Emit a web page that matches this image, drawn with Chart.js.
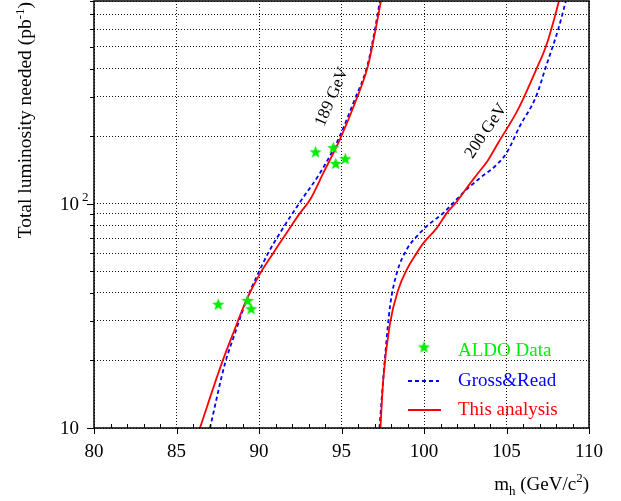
<!DOCTYPE html>
<html>
<head>
<meta charset="utf-8">
<script src="https://cdn.jsdelivr.net/npm/chart.js@4/dist/chart.umd.min.js"></script>
<style>
	html, body { margin: 0; padding: 0; background: #fff; }
	#wrap { width: 621px; height: 501px; }
</style>
</head>
<body>
<div id="wrap"><canvas id="lumi-chart" width="621" height="501"></canvas></div>
<script>
// ALDO data points (m_h, luminosity)
const aldoMass = [87.53, 89.31, 89.52, 93.43, 94.5, 94.65, 95.23];
const aldoLumi = [35.6, 37.0, 34.0, 170, 177.6, 151, 158.5];

// 189 GeV curves
const massRed189 = [86.42, 87.74, 88.44, 89.25, 89.96, 90.87, 91.67, 92.48, 93.09, 93.9, 94.9, 95.9, 96.6, 97.03, 97.39];
const lumiRed189 = [10, 19.4, 26.5, 37.3, 47.3, 60.3, 74, 90.7, 104, 137, 193, 291, 410, 578, 800];
const massBlue189 = [87.03, 87.94, 88.55, 89.25, 89.86, 90.56, 91.27, 92.18, 92.58, 93.7, 94.8, 95.8, 96.56, 96.99, 97.33];
const lumiBlue189 = [10, 19.4, 26.5, 37.3, 47.3, 60.3, 74, 94, 104, 137, 193, 291, 410, 578, 800];

// 200 GeV curves
const massRed200 = [97.36, 97.53, 97.94, 98.44, 98.95, 99.56, 99.96, 100.77, 101.38, 101.98, 102.59, 103.2, 103.9, 104.5, 105.7, 106.8, 107.4, 107.94, 108.18];
const lumiRed200 = [10, 16.4, 29.3, 41.3, 50.7, 60.3, 66.7, 77.8, 90.7, 102, 117.4, 134.5, 157, 186.7, 263, 396, 504, 686, 800];
const massBlue200 = [97.3, 97.64, 97.94, 98.35, 98.95, 99.56, 100.16, 101.17, 101.58, 102.38, 103.39, 104.4, 105.0, 105.8, 106.8, 107.4, 108.14, 108.6];
const lumiBlue200 = [10, 20.8, 34.8, 49, 62.4, 71.5, 79.2, 90.8, 97.3, 112, 130, 149, 168, 221, 301, 410, 600, 800];

const xTicks = [80, 85, 90, 95, 100, 105, 110];
const yGrid = [10, 20, 30, 40, 50, 60, 70, 80, 90, 100, 200, 300, 400, 500, 600, 700, 800];
const yMajor = [10, 100];
const legendLabels = ['ALDO Data', 'Gross&Read', 'This analysis'];

const serif = '"Liberation Serif", "DejaVu Serif", serif';
const greenColor = '#00ee00';
const blueColor = '#0000ff';
const redColor = '#ff0000';

function toPoints(xs, ys) {
	return xs.map((x, i) => ({ x: x, y: ys[i] }));
}

function makeStar(r, color) {
	const c = document.createElement('canvas');
	const size = Math.ceil(r * 2) + 2;
	c.width = size;
	c.height = size;
	const g = c.getContext('2d');
	g.fillStyle = color;
	g.beginPath();
	for (let i = 0; i < 10; i++) {
		const rad = i % 2 == 0 ? r : r * 0.42;
		const a = -Math.PI / 2 + i * Math.PI / 5;
		const px = size / 2 + rad * Math.cos(a);
		const py = size / 2 + rad * Math.sin(a) + 0.5;
		if (i == 0) g.moveTo(px, py);
		else g.lineTo(px, py);
	}
	g.closePath();
	g.fill();
	return c;
}

const star = makeStar(6.5, greenColor);

// draws text pieces [text, size, raise] in a row starting at x
function drawPieces(ctx, pieces, x, y) {
	for (const [text, size, raise] of pieces) {
		ctx.font = size + 'px ' + serif;
		ctx.fillText(text, x, y - raise);
		x += ctx.measureText(text).width;
	}
}

function piecesWidth(ctx, pieces) {
	let w = 0;
	for (const [text, size] of pieces) {
		ctx.font = size + 'px ' + serif;
		w += ctx.measureText(text).width;
	}
	return w;
}

const framePlugin = {
	id: 'framePlugin',
	afterDraw: (chart) => {
		const { ctx, chartArea: { top, bottom, left, right }, scales: { x, y } } = chart;
		ctx.save();
		ctx.fillStyle = '#000';
		ctx.strokeStyle = '#000';

		// ticks
		ctx.lineWidth = 1;
		ctx.beginPath();
		for (let v = 80; v <= 110; v++) {
			const px = Math.round(x.getPixelForValue(v)) + 0.5;
			if (v % 5 == 0) {
				ctx.moveTo(px, bottom);
				ctx.lineTo(px, bottom + 6);
			} else {
				ctx.moveTo(px, bottom);
				ctx.lineTo(px, bottom - 4);
			}
		}
		for (const v of yGrid) {
			const py = Math.round(y.getPixelForValue(v)) + 0.5;
			const len = yMajor.includes(v) ? 7 : 4;
			ctx.moveTo(left - len, py);
			ctx.lineTo(left, py);
		}
		ctx.stroke();

		// frame
		ctx.lineWidth = 1.5;
		ctx.strokeRect(left, top, right - left, bottom - top);

		// x tick labels
		ctx.font = '19px ' + serif;
		ctx.textAlign = 'center';
		ctx.textBaseline = 'middle';
		for (const v of xTicks)
			ctx.fillText(String(v), x.getPixelForValue(v), bottom + 24);

		// y tick labels
		ctx.textAlign = 'right';
		ctx.fillText('10', left - 15, y.getPixelForValue(10) + 1);
		ctx.fillText('10', left - 15, y.getPixelForValue(100) + 1);
		ctx.textAlign = 'left';
		ctx.font = '13px ' + serif;
		ctx.fillText('2', left - 12, y.getPixelForValue(100) - 6);

		// x title
		ctx.textBaseline = 'alphabetic';
		const xTitle = [['m', 19, 0], ['h', 13, -5], [' (GeV/c', 19, 0], ['2', 13, 8], [')', 19, 0]];
		drawPieces(ctx, xTitle, right - piecesWidth(ctx, xTitle), 490);

		// y title
		const yTitle = [['Total luminosity needed (pb', 19.5, 0], ['-1', 13, 7], [')', 19.5, 0]];
		ctx.save();
		ctx.translate(31, 2);
		ctx.rotate(-Math.PI / 2);
		drawPieces(ctx, yTitle, -piecesWidth(ctx, yTitle), 0);
		ctx.restore();

		// energy labels along the curves
		ctx.font = '17px ' + serif;
		ctx.textAlign = 'center';
		ctx.textBaseline = 'middle';
		ctx.save();
		ctx.translate(332, 97);
		ctx.rotate(-67 * Math.PI / 180);
		ctx.fillText('189 GeV', 0, 0);
		ctx.restore();
		ctx.save();
		ctx.translate(486, 131);
		ctx.rotate(-56 * Math.PI / 180);
		ctx.fillText('200 GeV', 0, 0);
		ctx.restore();

		// legend
		ctx.textAlign = 'left';
		ctx.font = '19px ' + serif;
		ctx.drawImage(star, 424 - star.width / 2, 347 - star.height / 2);
		ctx.fillStyle = greenColor;
		ctx.fillText(legendLabels[0], 458, 351);

		ctx.lineWidth = 2;
		ctx.strokeStyle = blueColor;
		ctx.setLineDash([4, 3]);
		ctx.beginPath();
		ctx.moveTo(408, 381);
		ctx.lineTo(439, 381);
		ctx.stroke();
		ctx.fillStyle = blueColor;
		ctx.fillText(legendLabels[1], 458, 381);

		ctx.setLineDash([]);
		ctx.strokeStyle = redColor;
		ctx.beginPath();
		ctx.moveTo(408, 410);
		ctx.lineTo(441, 410);
		ctx.stroke();
		ctx.fillStyle = redColor;
		ctx.fillText(legendLabels[2], 458, 410);

		ctx.restore();
	}
};

const lineStyle = {
	type: 'line',
	showLine: true,
	pointRadius: 0,
	borderWidth: 1.8,
	cubicInterpolationMode: 'monotone',
	fill: false
};

new Chart(document.getElementById('lumi-chart'), {
	type: 'scatter',
	data: {
		datasets: [{
			label: 'ALDO Data',
			data: toPoints(aldoMass, aldoLumi),
			pointStyle: star,
			pointRadius: 7,
			backgroundColor: greenColor,
			borderColor: greenColor
		}, {
			...lineStyle,
			label: 'This analysis 189',
			data: toPoints(massRed189, lumiRed189),
			borderColor: redColor
		}, {
			...lineStyle,
			label: 'Gross&Read 189',
			data: toPoints(massBlue189, lumiBlue189),
			borderColor: blueColor,
			borderDash: [4, 3]
		}, {
			...lineStyle,
			label: 'This analysis 200',
			data: toPoints(massRed200, lumiRed200),
			borderColor: redColor
		}, {
			...lineStyle,
			label: 'Gross&Read 200',
			data: toPoints(massBlue200, lumiBlue200),
			borderColor: blueColor,
			borderDash: [4, 3]
		}]
	},
	options: {
		responsive: false,
		animation: false,
		layout: {
			autoPadding: false,
			padding: { left: 94, right: 32, top: 1, bottom: 73 }
		},
		plugins: {
			legend: { display: false },
			tooltip: { enabled: false }
		},
		scales: {
			x: {
				type: 'linear',
				min: 80,
				max: 110,
				afterBuildTicks: (scale) => { scale.ticks = xTicks.map(v => ({ value: v })); },
				afterFit: (scale) => { scale.height = 0; },
				ticks: { display: false },
				grid: { color: '#111', lineWidth: 1, drawTicks: false },
				border: { display: false, dash: [1, 2] }
			},
			y: {
				type: 'logarithmic',
				min: 10,
				max: 800,
				afterBuildTicks: (scale) => { scale.ticks = yGrid.map(v => ({ value: v })); },
				afterFit: (scale) => { scale.width = 0; },
				ticks: { display: false },
				grid: { color: '#111', lineWidth: 1, drawTicks: false },
				border: { display: false, dash: [1, 2] }
			}
		}
	},
	plugins: [framePlugin]
});
</script>
</body>
</html>
